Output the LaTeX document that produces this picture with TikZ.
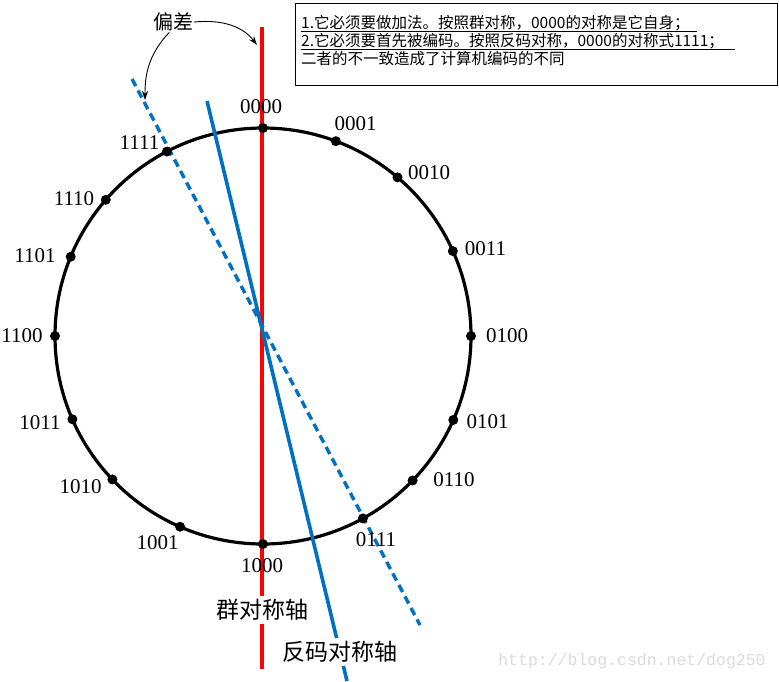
\documentclass[tikz,border=0pt]{standalone}
\usepackage{fontspec}
\setmainfont{Liberation Serif}
\setmonofont{Liberation Mono}
\newfontfamily\cjk{Noto Sans CJK SC}
\usetikzlibrary{arrows.meta}

\definecolor{axisblue}{RGB}{0,112,192}

\begin{document}
\begin{tikzpicture}[
            x = 1pt, y = -1pt, % one unit per pixel, y downwards
            > = {Stealth[length=9pt,width=6pt]}, % arrow head style
            dot/.style = {shape=circle, fill=black, inner sep=0pt, minimum size=10pt},
            code/.style = {font=\fontsize{21}{22}\selectfont, inner sep=0pt},
            axislabel/.style = {font=\cjk\fontsize{23}{26}\selectfont, fill=white, inner sep=3pt},
            notetext/.style = {font=\cjk\fontsize{15.5}{18}\selectfont, anchor=west, inner sep=0pt}
        ]

\useasboundingbox (0,0) rectangle (779,681);
\fill[white] (0,0) rectangle (779,681);

% the ring
\coordinate (C) at (263,336);
\draw[line width=3.2pt] (C) circle (208pt);

% symmetry axes
\coordinate (redtop) at (262,27);
\coordinate (redbot) at (262,669);
\coordinate (fmtop) at (207,101);
\coordinate (fmbot) at (347,681);
\coordinate (gaptop) at (132,79);
\coordinate (gapbot) at (420,625);
\draw[red, line width=4pt] (redtop) -- (redbot);
\draw[axisblue, line width=3.6pt] (fmtop) -- (fmbot);
\draw[axisblue, line width=3.4pt, dash pattern=on 8pt off 5pt] (gaptop) -- (gapbot);

% dots and codes
\foreach \a/\bits/\lx/\ly in {90/0000/261/107, 69.5/0001/355.5/124, 49.7/0010/429/172.5,
    24.1/0011/485.5/249, 0/0100/507/336, -23.8/0101/487.5/422, -44/0110/454/480,
    -61.3/0111/376/540, -90/1000/262/566, -113.5/1001/157.5/543, -136.4/1010/80.5/487,
    -156.4/1011/40/423, 180/1100/22/336, 157.6/1101/35/256, 139.1/1110/74/199, 117.5/1111/139.5/143}
{
  \node[dot] (d\bits) at ([shift={(\a:208pt)}]C) {};
  \node[code] (l\bits) at (\lx,\ly) {\bits};
}

\node[axislabel] (grouplabel) at (262,610) {群对称轴};
\node[axislabel] (onescomp) at (340,652) {反码对称轴};

% the offset
\node[font=\cjk\fontsize{20}{22}\selectfont, inner sep=1pt] (bias) at (173,22) {偏差};
\coordinate (biasred) at (257,45);
\coordinate (biasdash) at (145,100);
\draw[->, line width=0.9pt] (bias.east) .. controls (225,19) and (244,28) .. (biasred);
\draw[->, line width=0.9pt] (bias.250) .. controls (148,55) and (145,75) .. (biasdash);

% note box
\node[draw=black, line width=1pt, minimum width=482pt, minimum height=82pt,
      anchor=north west, inner sep=0pt] (note) at (295,3) {};
\node[notetext] (note1) at (301,23) {1.它必须要做加法。按照群对称，0000的对称是它自身；};
\node[notetext] (note2) at (301,41) {2.它必须要首先被编码。按照反码对称，0000的对称式1111；};
\node[notetext] (note3) at (301,59) {二者的不一致造成了计算机编码的不同};
\draw[line width=0.8pt] ([yshift=-8pt]note1.west) -- ([xshift=7pt,yshift=-8pt]note1.east);
\draw[line width=0.8pt] ([yshift=-8pt]note2.west) -- ([xshift=11pt,yshift=-8pt]note2.east);

\node[font=\ttfamily\fontsize{16.5}{18}\selectfont, text=black!14] (wm) at (632,661) {http://blog.csdn.net/dog250};
\end{tikzpicture}
\end{document}
